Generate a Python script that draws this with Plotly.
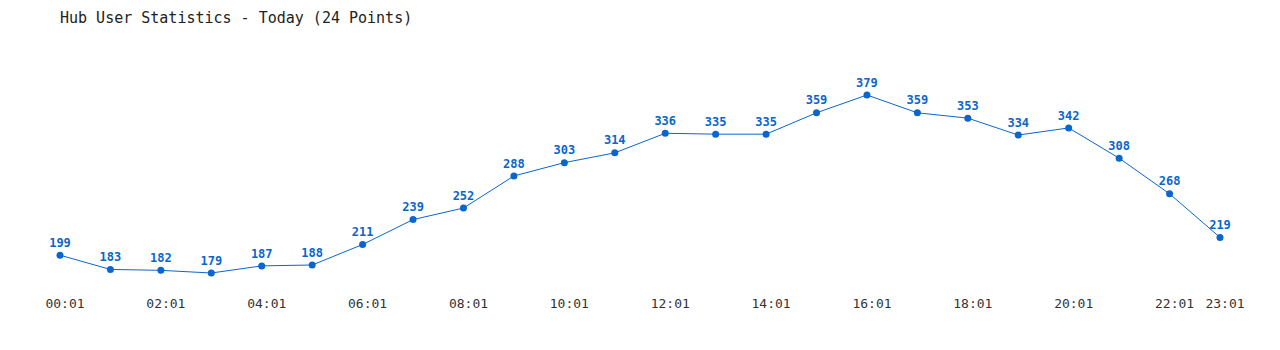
import plotly.graph_objects as go

times = ["00:01","01:01","02:01","03:01","04:01","05:01","06:01","07:01","08:01","09:01","10:01","11:01",
         "12:01","13:01","14:01","15:01","16:01","17:01","18:01","19:01","20:01","21:01","22:01","23:01"]
users = [199,183,182,179,187,188,211,239,252,288,303,314,336,335,335,359,379,359,353,334,342,308,268,219]
tick_idx = [0,2,4,6,8,10,12,14,16,18,20,22,23]

x = list(range(len(times)))
blue = "#0a66cc"

fig = go.Figure(go.Scatter(
    x=x, y=users, mode="lines+markers+text",
    line=dict(color=blue, width=1),
    marker=dict(color=blue, size=7),
    text=[str(v) for v in users], textposition="top center",
    textfont=dict(family="DejaVu Sans Mono", size=12, color=blue, weight="bold"),
    cliponaxis=False,
    hoverinfo="skip",
))

fig.update_layout(
    width=1280, height=350,
    margin=dict(l=60, r=60, t=40, b=60),
    paper_bgcolor="white", plot_bgcolor="white",
    showlegend=False,
    title=dict(text="Hub User Statistics - Today (24 Points)", x=60/1280, xanchor="left",
               y=1-18/350, yanchor="middle",
               font=dict(family="DejaVu Sans Mono", size=15, color="#222222")),
    xaxis=dict(range=[0,23], tickvals=tick_idx, ticktext=[times[i] for i in tick_idx],
               showgrid=False, zeroline=False, showline=False, ticks="",
               ticklabelshift=5, ticklabelstandoff=4,
               tickfont=dict(family="DejaVu Sans Mono", size=13, color="#333333")),
    yaxis=dict(range=[159.9,440.8], visible=False),
)
fig.write_html("out.html")
